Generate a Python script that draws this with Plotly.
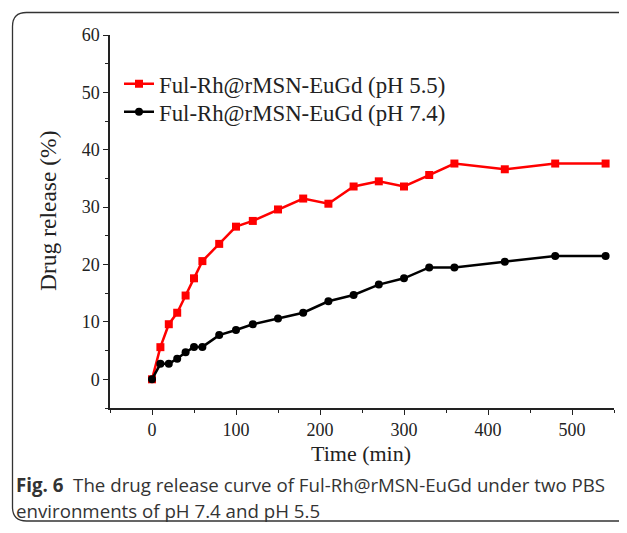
import plotly.graph_objects as go

time_min = [0, 10, 20, 30, 40, 50, 60, 80, 100, 120, 150, 180, 210, 240, 270, 300, 330, 360, 420, 480, 540]
release_ph55 = [0, 5.6, 9.6, 11.6, 14.6, 17.6, 20.6, 23.6, 26.6, 27.6, 29.6, 31.5, 30.6, 33.6, 34.5, 33.6, 35.6, 37.6, 36.6, 37.6, 37.6]
release_ph74 = [0, 2.7, 2.7, 3.6, 4.7, 5.65, 5.65, 7.7, 8.6, 9.6, 10.6, 11.6, 13.6, 14.7, 16.5, 17.6, 19.5, 19.5, 20.5, 21.5, 21.5]
series_names = ["Ful-Rh@rMSN-EuGd (pH 5.5)", "Ful-Rh@rMSN-EuGd (pH 7.4)"]
x_title = "Time (min)"
y_title = "Drug release (%)"
caption_line1 = "<b>Fig. 6</b>  The drug release curve of Ful-Rh@rMSN-EuGd under two PBS"
caption_line2 = "environments of pH 7.4 and pH 5.5"

OFF = 8  # default page margin of the html body
W, H = 627 - OFF, 533 - OFF
# plot area in reference-page pixels: x 110..614, y 35..408
ML, MT = 110 - OFF, 35 - OFF
MR = W - (614 - OFF)
MB = H - (408 - OFF)
PW, PH = W - ML - MR, H - MT - MB

def px2x(px):
    return (px - OFF - ML) / PW

def py2y(py):
    return (MT + PH - (py - OFF)) / PH

serif = "Liberation Serif, Times New Roman, serif"
ink = "#222222"

fig = go.Figure()
fig.add_trace(go.Scatter(
    x=time_min, y=release_ph55, name=series_names[0], mode="lines+markers",
    line=dict(color="#ff0000", width=2.5),
    marker=dict(symbol="square", size=8, color="#ff0000"),
    legend="legend",
))
fig.add_trace(go.Scatter(
    x=time_min, y=release_ph74, name=series_names[1], mode="lines+markers",
    line=dict(color="#000000", width=2.5),
    marker=dict(symbol="circle", size=8, color="#000000"),
    legend="legend2",
))

axis_common = dict(
    showline=True, linecolor=ink, linewidth=1.5,
    ticks="outside", ticklen=5, tickwidth=1.3, tickcolor=ink,
    showgrid=False, zeroline=False,
    tickfont=dict(family=serif, size=18, color=ink),
)

fig.update_xaxes(
    range=[-50, 550], tickvals=[0, 100, 200, 300, 400, 500],
    minor=dict(tickvals=[-50, 50, 150, 250, 350, 450, 550], ticklen=3, tickwidth=1.3,
               tickcolor=ink, ticks="outside", showgrid=False),
    **axis_common,
)
fig.update_yaxes(
    range=[-5, 60], tickvals=[0, 10, 20, 30, 40, 50, 60],
    minor=dict(tickvals=[-5, 5, 15, 25, 35, 45, 55], ticklen=3, tickwidth=1.3,
               tickcolor=ink, ticks="outside", showgrid=False),
    **axis_common,
)

# axis titles
fig.add_annotation(text=x_title, xref="paper", yref="paper", x=px2x(361), y=py2y(453),
                   xanchor="center", yanchor="middle", showarrow=False,
                   font=dict(family=serif, size=22, color=ink))
fig.add_annotation(text=y_title, xref="paper", yref="paper", x=px2x(48), y=py2y(211),
                   xanchor="center", yanchor="middle", showarrow=False, textangle=-90,
                   font=dict(family=serif, size=23.5, color=ink))

# rounded caption frame
r = 14
x0, x1 = px2x(12.5), px2x(660)
y0, y1 = py2y(12.5), py2y(521)
rx, ry = r / PW, r / PH
path = (f"M{x0+rx},{y0} L{x1},{y0} L{x1},{y1} L{x0+rx},{y1} "
        f"Q{x0},{y1} {x0},{y1+ry} L{x0},{y0-ry} Q{x0},{y0} {x0+rx},{y0} Z")
fig.add_shape(type="path", xref="paper", yref="paper", path=path,
              line=dict(color="#333333", width=1.3), fillcolor="rgba(0,0,0,0)", layer="below")

cap_font = dict(family="Open Sans, Noto Sans, sans-serif", size=18.7, color="#333333")
fig.add_annotation(text=caption_line1, xref="paper", yref="paper", x=px2x(14), y=py2y(485),
                   xanchor="left", yanchor="middle", showarrow=False, font=cap_font)
fig.add_annotation(text=caption_line2, xref="paper", yref="paper", x=px2x(14), y=py2y(510),
                   xanchor="left", yanchor="middle", showarrow=False, font=cap_font)

leg_common = dict(xanchor="left", yanchor="middle", bgcolor="rgba(0,0,0,0)", borderwidth=0,
                  font=dict(family=serif, size=22.8, color=ink), itemwidth=30)
fig.update_layout(
    width=W, height=H,
    margin=dict(l=ML, r=MR, t=MT, b=MB, autoexpand=False),
    paper_bgcolor="white", plot_bgcolor="white",
    showlegend=True,
    legend=dict(x=px2x(119), y=py2y(84), **leg_common),
    legend2=dict(x=px2x(119), y=py2y(112), **leg_common),
)

fig.write_html("out.html")
